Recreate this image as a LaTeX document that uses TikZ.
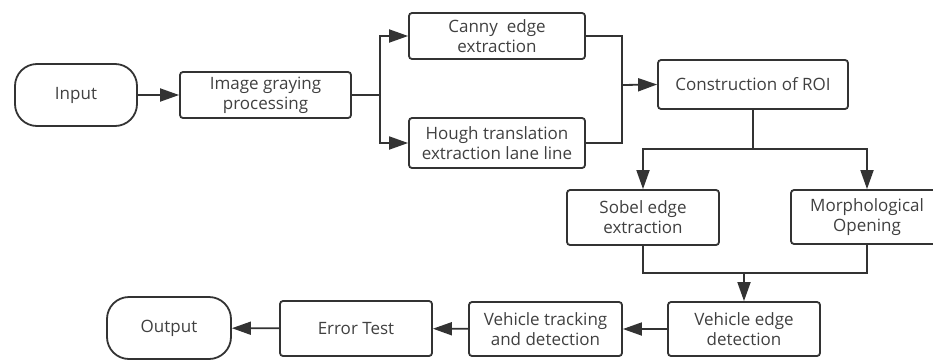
\documentclass[tikz,border=0pt]{standalone}
\usepackage{fontspec}
\setmainfont{Open Sans}
\usetikzlibrary{arrows.meta}

\begin{document}
\begin{tikzpicture}[x=1pt,y=-1pt,line width=1.8pt,
  every node/.style={font=\fontsize{17}{20}\selectfont, text=black!75, align=center, inner sep=0pt},
  box/.style={draw=black!80, rounded corners=3pt, minimum width=152pt, minimum height=54pt},
  term/.style={draw=black!80, rounded corners=22pt, minimum width=122pt, minimum height=62pt},
  arr/.style={draw=black!80, -{Triangle[length=19pt,width=13pt]}},
  ln/.style={draw=black!80}]
\useasboundingbox (0,0) rectangle (933,359);
\node[term] (input) at (76,95) {Input};
\node[box, minimum width=171pt, minimum height=46pt] (gray) at (265.5,95) {Image graying\\processing};
\node[box, minimum width=176pt, minimum height=46pt] (canny) at (497,36) {Canny~ edge\\extraction};
\node[box, minimum width=176pt, minimum height=50pt] (hough) at (497,143) {Hough translation\\extraction lane line};
\node[box, minimum width=190pt, minimum height=49pt] (roi) at (753,84.5) {Construction of ROI};
\node[box, minimum height=55pt] (sobel) at (643,217.5) {Sobel edge\\extraction};
\node[box] (morph) at (867,217) {Morphological\\Opening};
\node[box] (vedge) at (744,329) {Vehicle edge\\detection};
\node[box, minimum width=153pt] (vtrack) at (545.5,329) {Vehicle tracking\\and detection};
\node[box, minimum height=55pt] (error) at (356,328.5) {Error Test};
\node[term, minimum width=124pt] (output) at (169,328) {Output};
\coordinate (b1) at (380,95);
\coordinate (m1) at (622,85);
\coordinate (s1) at (753,149);
\coordinate (m2) at (744,273);
\draw[arr] (input) -- (gray);
\draw[ln] (gray.east) -- (b1);
\draw[arr] (b1) |- (canny.west);
\draw[arr] (b1) |- (hough.west);
\draw[ln] (canny.east) -| (m1);
\draw[ln] (hough.east) -| (m1);
\draw[arr] (m1) -- (roi.west);
\draw[ln] (roi.south) -- (s1);
\draw[arr] (s1) -| (sobel.north);
\draw[arr] (s1) -| (morph.north);
\draw[ln] (sobel.south) |- (m2);
\draw[ln] (morph.south) |- (m2);
\draw[arr] (m2) -- (vedge.north);
\draw[arr] (vedge) -- (vtrack);
\draw[arr] (vtrack) -- (error);
\draw[arr] (error) -- (output);
\end{tikzpicture}
\end{document}
